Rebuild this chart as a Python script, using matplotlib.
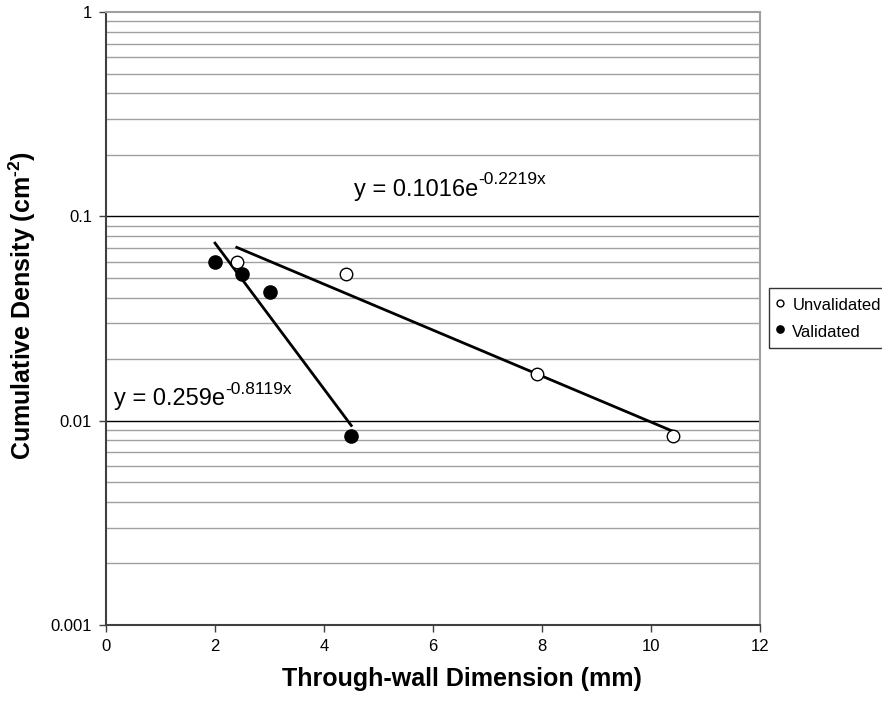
import numpy as np
import matplotlib
matplotlib.use("Agg")
import matplotlib.pyplot as plt
from matplotlib.ticker import FixedLocator, FixedFormatter, NullFormatter

plt.rcParams['font.family'] = ['Liberation Sans', 'DejaVu Sans']
plt.rcParams['mathtext.fontset'] = 'custom'
plt.rcParams['mathtext.rm'] = 'Liberation Sans:bold'
plt.rcParams['mathtext.bf'] = 'Liberation Sans:bold'

# Through-wall dimension (mm) and cumulative density (cm^-2)
unval_x = [2.4, 4.4, 7.9, 10.4]
unval_y = [0.060, 0.052, 0.0170, 0.0084]
val_x = [2.0, 2.5, 3.0, 4.5]
val_y = [0.060, 0.052, 0.0426, 0.0084]

# trendline equations (base, exponent)
unval_eq = ("y = 0.1016e", "-0.2219x")
val_eq = ("y = 0.259e", "-0.8119x")

x_ticks = [0, 2, 4, 6, 8, 10, 12]
y_ticks = [0.001, 0.01, 0.1, 1]
y_tick_labels = ["0.001", "0.01", "0.1", "1"]

W, H = 882, 704
fig = plt.figure(figsize=(W / 100, H / 100), dpi=100)
ax = fig.add_axes([106 / W, 1 - 625 / H, (760 - 106) / W, (625 - 12) / H])

ax.set_yscale('log')
ax.set_xlim(0, 12)
ax.set_ylim(0.001, 1)

# gridlines: minor in grey, decades in black
minor = [m * 10.0 ** e for e in (-3, -2, -1) for m in range(2, 10)]
for v in minor:
    ax.axhline(v, color='#a0a0a0', lw=1.0, zorder=0)
for v in (0.01, 0.1):
    ax.axhline(v, color='black', lw=1.0, zorder=0)


def exp_trend(xs, ys):
    # least-squares fit of ln(y) against x, evaluated over the data range
    b, a = np.polyfit(xs, np.log(ys), 1)
    xx = np.linspace(min(xs), max(xs), 50)
    return xx, np.exp(a + b * xx)


tx, ty = exp_trend(unval_x, unval_y)
ax.plot(tx, ty, color='black', lw=2.0, zorder=2)
tx, ty = exp_trend(val_x, val_y)
ax.plot(tx, ty, color='black', lw=2.0, zorder=2)

ax.plot(unval_x, unval_y, 'o', ms=9, mfc='white', mec='black', mew=1.0,
        label='Unvalidated', zorder=3)
ax.plot(val_x, val_y, 'o', ms=9.5, mfc='black', mec='black',
        label='Validated', zorder=3)


def equation(x, y, base, expo):
    t = ax.text(x, y, base, fontsize=17, ha='left', va='baseline')
    ax.annotate(expo, xy=(1.0, 0.62), xycoords=t, fontsize=12.5,
                ha='left', va='bottom')


equation(4.55, 0.1257, *unval_eq)
equation(0.15, 0.0119, *val_eq)

ax.xaxis.set_major_locator(FixedLocator(x_ticks))
ax.set_xticklabels([str(t) for t in x_ticks])
ax.yaxis.set_major_locator(FixedLocator(y_ticks))
ax.yaxis.set_major_formatter(FixedFormatter(y_tick_labels))
ax.yaxis.set_minor_locator(FixedLocator([]))
ax.yaxis.set_minor_formatter(NullFormatter())
ax.tick_params(axis='both', which='major', direction='out', length=5,
               width=1.0, color='#404040', labelsize=12, pad=5)

for side in ('left', 'bottom'):
    ax.spines[side].set_color('#404040')
    ax.spines[side].set_linewidth(1.5)
for side in ('right', 'top'):
    ax.spines[side].set_color('#a0a0a0')
    ax.spines[side].set_linewidth(1.5)

fig.text(462 / W, 1 - 679 / H, "Through-wall Dimension (mm)", fontsize=18,
         fontweight='bold', ha='center', va='center')
fig.text(22 / W, 1 - 305 / H, "Cumulative Density (cm$^{\\text{-2}}$)",
         fontsize=18, fontweight='bold', rotation=90, ha='center', va='center')

leg = fig.legend(loc='upper left', bbox_to_anchor=(769 / W, 1 - 288 / H),
                 frameon=True, fancybox=False, fontsize=12, markerscale=0.55,
                 handlelength=0.5, handleheight=1.5, handletextpad=0.5,
                 borderpad=0.4, labelspacing=0.35, borderaxespad=0)
leg.get_frame().set_edgecolor('black')
leg.get_frame().set_linewidth(1.0)

fig.savefig("out.png", dpi=100)
